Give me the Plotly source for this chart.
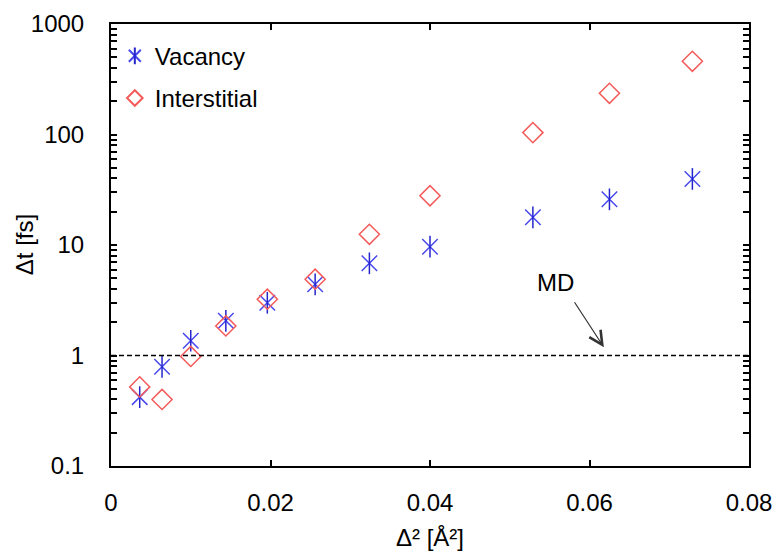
import math
import plotly.graph_objects as go

# Squared displacement amplitude (Å^2)
delta_sq = [0.0036, 0.0064, 0.0100, 0.0144, 0.0196, 0.0256, 0.0324, 0.0400, 0.0529, 0.0625, 0.0729]
# Time step (fs) for each defect type
vacancy = [0.42, 0.79, 1.36, 2.06, 3.00, 4.41, 6.83, 9.66, 17.8, 25.9, 39.6]
interstitial = [0.52, 0.40, 0.98, 1.85, 3.23, 4.90, 12.5, 27.9, 104, 236, 460]

# Reference MD time step
md_step = 1.0

x_ticks = [0, 0.02, 0.04, 0.06, 0.08]
x_labels = ["0", "0.02", "0.04", "0.06", "0.08"]
y_ticks = [0.1, 1, 10, 100, 1000]
y_labels = ["0.1", "1", "10", "100", "1000"]

FONT = "Liberation Sans, Arial, sans-serif"
BLUE = "#4848EE"
BLUE_DARK = "#2525CC"
RED = "#F45A5A"
MSIZE = 15.5

fig = go.Figure()

# Vacancy asterisk = thin X plus a vertical stroke
fig.add_trace(go.Scatter(
    x=delta_sq, y=vacancy, mode="markers", name="Vacancy",
    marker=dict(symbol="x-thin-open", size=MSIZE, color=BLUE, line=dict(color=BLUE, width=1.5)),
    legend="legend", legendgroup="vac",
))
fig.add_trace(go.Scatter(
    x=delta_sq, y=vacancy, mode="markers", name="Vacancy",
    marker=dict(symbol="line-ns-open", size=MSIZE, color=BLUE_DARK, line=dict(color=BLUE_DARK, width=1.5)),
    legend="legend2", legendgroup="vac2",
))
fig.add_trace(go.Scatter(
    x=delta_sq, y=interstitial, mode="markers", name="Interstitial",
    marker=dict(symbol="diamond-open", size=MSIZE, color=RED, line=dict(color=RED, width=1.5)),
    legend="legend", legendgroup="int",
))

# MD reference level
fig.add_shape(type="line", xref="x", yref="y", x0=x_ticks[0], x1=x_ticks[-1],
              y0=md_step, y1=md_step,
              line=dict(color="black", width=1.3, dash="5px,3px"))

fig.add_annotation(x=0.0618, y=math.log10(1.19), ax=0.0580, ay=math.log10(3.13),
                   xref="x", yref="y", axref="x", ayref="y", text="",
                   showarrow=True, arrowhead=5, arrowsize=2.2, arrowwidth=1.2,
                   arrowcolor="#333333", standoff=0, startstandoff=0)
fig.add_annotation(x=0.0557, y=math.log10(4.56), xref="x", yref="y", text="MD",
                   showarrow=False, font=dict(family=FONT, size=24, color="black"))

# y-axis title
fig.add_annotation(x=-0.136, y=0.5, xref="paper", yref="paper", text="Δt [fs]",
                   textangle=-90, showarrow=False, xanchor="center", yanchor="middle",
                   font=dict(family=FONT, size=24, color="black"))

axis_common = dict(
    showline=True, linecolor="black", linewidth=2, mirror="allticks",
    ticks="inside", ticklen=6, tickwidth=1.5, tickcolor="black",
    showgrid=False, zeroline=False, automargin=False,
    tickfont=dict(family=FONT, size=24, color="black"),
)

legend_common = dict(x=0.006, y=0.978, xanchor="left", yanchor="top",
                     bgcolor="rgba(0,0,0,0)", borderwidth=0,
                     itemsizing="constant")

fig.update_layout(
    width=778, height=559,
    margin=dict(l=111, r=29, t=24, b=93),
    paper_bgcolor="white", plot_bgcolor="white",
    font=dict(family=FONT, size=24, color="black"),
    xaxis=dict(range=[0, 0.08], tickvals=x_ticks, ticktext=x_labels,
               ticklabelstandoff=14,
               title=dict(text="Δ² [Å²]", standoff=14,
                          font=dict(family=FONT, size=24)),
               **axis_common),
    yaxis=dict(type="log", range=[-1, 3], tickvals=y_ticks, ticktext=y_labels,
               ticklabelstandoff=20,
               minor=dict(ticks="inside", ticklen=6, tickwidth=1.5,
                          tickcolor="black", dtick="D1", showgrid=False),
               **axis_common),
    legend=dict(tracegroupgap=8,
                font=dict(family=FONT, size=24, color="black"),
                **legend_common),
    legend2=dict(font=dict(family=FONT, size=24, color="rgba(0,0,0,0)"),
                 **legend_common),
)

fig.write_html("out.html")
